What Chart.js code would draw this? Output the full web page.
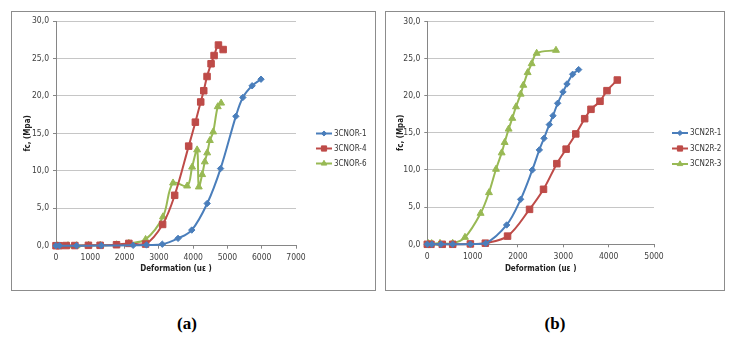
<!DOCTYPE html>
<html>
<head>
<meta charset="utf-8">
<script src="https://cdn.jsdelivr.net/npm/chart.js@4.4.1/dist/chart.umd.min.js"></script>
<style>
  html, body { margin: 0; padding: 0; background: #fff; }
  body { width: 737px; height: 346px; position: relative; overflow: hidden; }
  .frame { position: absolute; border: 1px solid #8c8c8c; box-sizing: border-box; }
  .frame canvas { position: absolute; left: 0; top: 0; }
  .tag { position: absolute; width: 60px; text-align: center; font: bold 17px "Liberation Serif", "Times New Roman", serif; color: #000; }
</style>
</head>
<body>
<div class="frame" id="frameA" style="left:11px; top:11px; width:365px; height:280px;"><canvas id="chartA"></canvas></div>
<div class="frame" id="frameB" style="left:385px; top:11px; width:340px; height:280px;"><canvas id="chartB"></canvas></div>
<div class="tag" style="left:157px; top:314px;">(a)</div>
<div class="tag" style="left:525px; top:314px;">(b)</div>
<script>
// ---- (a) 3CNOR specimens: strain (uε) vs stress (MPa)
const nor1X = [0, 100, 600, 1320, 2250, 2640, 3100, 3560, 3960, 4410, 4800, 5245, 5450, 5720, 5980];
const nor1Y = [0, 0, 0, 0.02, 0.05, 0.1, 0.2, 0.98, 2.09, 5.64, 10.3, 17.28, 19.8, 21.36, 22.24];
const nor4X = [0, 100, 300, 550, 946, 1287, 1765, 2125, 2613, 3110, 3461, 3870, 4065, 4221, 4309, 4406, 4523, 4611, 4738, 4875];
const nor4Y = [0, 0, 0.02, 0.02, 0.05, 0.05, 0.13, 0.31, 0.22, 2.84, 6.73, 13.3, 16.5, 19.2, 20.7, 22.6, 24.3, 25.4, 26.8, 26.2];
const nor6X = [30, 350, 600, 950, 1290, 1765, 2125, 2613, 3120, 3414, 3825, 3970, 4116, 4165, 4263, 4340, 4410, 4488, 4585, 4718, 4816];
const nor6Y = [0, 0, 0, 0.05, 0.05, 0.13, 0.31, 0.84, 3.86, 8.38, 7.98, 10.5, 12.8, 7.85, 9.5, 11.2, 12.4, 14.05, 15.2, 18.57, 19.05];

// ---- (b) 3CN2R specimens
const n2r1X = [0, 100, 300, 560, 950, 1290, 1750, 2059, 2316, 2471, 2574, 2691, 2772, 2875, 2993, 3081, 3206, 3338];
const n2r1Y = [0, 0, 0, 0, 0.02, 0.13, 2.6, 6.05, 10.0, 12.7, 14.26, 16.1, 17.3, 18.97, 20.5, 21.57, 22.87, 23.5];
const n2r2X = [0, 80, 330, 560, 950, 1280, 1770, 2255, 2563, 2857, 3062, 3275, 3471, 3610, 3809, 3963, 4191];
const n2r2Y = [0, 0, 0, 0, 0.05, 0.15, 1.1, 4.7, 7.4, 10.85, 12.8, 14.85, 16.9, 18.16, 19.24, 20.67, 22.1];
const n2r3X = [22, 96, 280, 560, 831, 1176, 1360, 1515, 1640, 1706, 1794, 1875, 1956, 2059, 2118, 2213, 2302, 2412, 2838];
const n2r3Y = [0.1, 0.1, 0.13, 0.13, 0.94, 4.17, 6.95, 10.1, 12.3, 13.7, 15.5, 16.95, 18.5, 20.2, 21.4, 23.1, 24.3, 25.7, 26.1];

const labelsA = ['3CNOR-1', '3CNOR-4', '3CNOR-6'];
const labelsB = ['3CN2R-1', '3CN2R-2', '3CN2R-3'];
const xTitle = 'Deformation (uε )';
const yTitle = 'fc, (Mpa)';

const BLUE = '#4a7ebb', RED = '#be4b48', GREEN = '#98b954';
const FONT = '"Liberation Sans Narrow", "DejaVu Sans Condensed", "Liberation Sans", sans-serif';

const toPoints = (xs, ys) => xs.map((x, i) => ({ x: x, y: ys[i] }));

function series(label, xs, ys, color, style, radius) {
  return {
    label: label,
    data: toPoints(xs, ys),
    borderColor: color,
    backgroundColor: color,
    borderWidth: 2,
    pointStyle: style,
    pointRadius: radius,
    pointHoverRadius: radius,
    pointBorderWidth: 1,
    tension: 0.35,
    showLine: true,
    clip: false
  };
}

// Legend drawn as line + marker + name, like an office chart key
const seriesKey = {
  id: 'seriesKey',
  afterDraw(chart, args, o) {
    const ctx = chart.ctx;
    chart.data.datasets.forEach((ds, i) => {
      const y = o.top + i * o.gap;
      ctx.save();
      ctx.strokeStyle = ds.borderColor;
      ctx.fillStyle = ds.backgroundColor;
      ctx.lineWidth = 2;
      ctx.beginPath();
      ctx.moveTo(o.left, y);
      ctx.lineTo(o.left + o.len, y);
      ctx.stroke();
      ctx.lineWidth = 1;
      Chart.helpers.drawPoint(ctx, { pointStyle: ds.pointStyle, radius: ds.pointRadius * 0.8, borderWidth: 1 }, o.left + o.len / 2, y);
      ctx.fillStyle = '#333';
      ctx.font = '8px ' + FONT;
      ctx.textBaseline = 'middle';
      ctx.textAlign = 'left';
      ctx.fillText(ds.label, o.left + o.len + 2, y);
      ctx.restore();
    });
  }
};

function makeChart(id, w, h, datasets, xMax, L) {
  const cv = document.getElementById(id);
  cv.width = w; cv.height = h;
  cv.style.width = w + 'px'; cv.style.height = h + 'px';
  return new Chart(cv, {
    type: 'scatter',
    data: { datasets: datasets },
    plugins: [seriesKey],
    options: {
      responsive: false,
      animation: false,
      devicePixelRatio: 1,
      layout: { padding: { left: 0, top: L.top, right: L.right, bottom: 0 } },
      plugins: {
        legend: { display: false },
        tooltip: { enabled: false },
        seriesKey: L.key
      },
      scales: {
        x: {
          type: 'linear', min: 0, max: xMax,
          afterFit(s) { s.height = L.xh; },
          ticks: { stepSize: 1000, padding: 4, color: '#404040', font: { family: FONT, size: 8.5 },
                   callback: v => String(v) },
          grid: { drawOnChartArea: false, tickLength: 3, color: '#868686', tickColor: '#868686' },
          border: { color: '#868686', width: 1 },
          title: { display: true, text: xTitle, color: '#222', font: { family: FONT, size: 8, weight: 'bold' }, padding: { top: 0, bottom: L.xtp } }
        },
        y: {
          type: 'linear', min: 0, max: 30,
          afterFit(s) { s.width = L.yw; },
          ticks: { stepSize: 5, padding: 4, color: '#404040', font: { family: FONT, size: 8.5 },
                   callback: v => v.toFixed(1).replace('.', ',') },
          grid: { color: '#c6c6c6', tickLength: 3, tickColor: '#868686', lineWidth: 1 },
          border: { color: '#868686', width: 1 },
          title: { display: true, text: yTitle, color: '#222', font: { family: FONT, size: 8, weight: 'bold' }, padding: { top: L.ytp, bottom: 0 } }
        }
      }
    }
  });
}

makeChart('chartA', 363, 278, [
  series(labelsA[0], nor1X, nor1Y, BLUE, 'rectRot', 3.2),
  series(labelsA[1], nor4X, nor4Y, RED, 'rect', 4.6),
  series(labelsA[2], nor6X, nor6Y, GREEN, 'triangle', 4)
], 7000, { top: 8, right: 79, xh: 44.3, yw: 44, xtp: 16.2, ytp: 11.2,
           key: { left: 304, top: 121.5, gap: 15, len: 16 } });

makeChart('chartB', 338, 278, [
  series(labelsB[0], n2r1X, n2r1Y, BLUE, 'rectRot', 3.2),
  series(labelsB[1], n2r2X, n2r2Y, RED, 'rect', 4.6),
  series(labelsB[2], n2r3X, n2r3Y, GREEN, 'triangle', 4)
], 5000, { top: 9.3, right: 70, xh: 45.7, yw: 41.3, xtp: 16, ytp: 10,
           key: { left: 286, top: 121, gap: 15.5, len: 16 } });
</script>
</body>
</html>
